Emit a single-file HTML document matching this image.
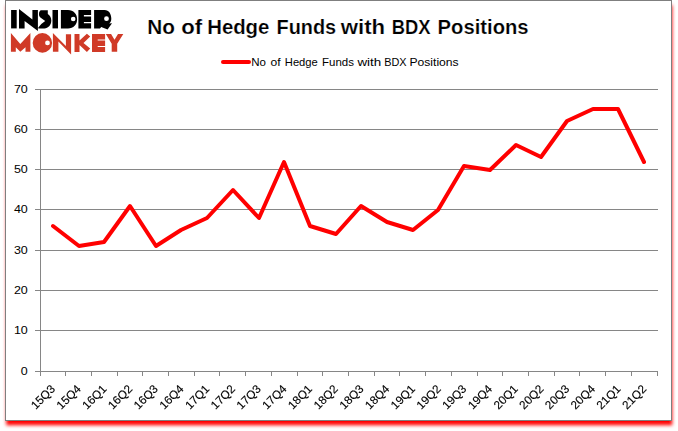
<!DOCTYPE html>
<html><head><meta charset="utf-8"><title>chart</title>
<style>
html,body{margin:0;padding:0;background:#fff;}
body{width:678px;height:431px;overflow:hidden;position:relative;font-family:"Liberation Sans",sans-serif;}
#box{position:absolute;left:5px;top:0;width:665px;height:419px;border:1px solid #7f7f7f;background:#fff;box-shadow:0.5px 4.5px 3.5px #ff0000;}
svg{position:absolute;left:0;top:0;}
text{font-family:"Liberation Sans",sans-serif;fill:#000;}
</style></head><body>
<div id="box"></div>
<svg width="678" height="431" viewBox="0 0 678 431">

<rect x="35" y="89" width="623" height="1" fill="#868686"/>
<rect x="35" y="129" width="623" height="1" fill="#868686"/>
<rect x="35" y="169" width="623" height="1" fill="#868686"/>
<rect x="35" y="209" width="623" height="1" fill="#868686"/>
<rect x="35" y="250" width="623" height="1" fill="#868686"/>
<rect x="35" y="290" width="623" height="1" fill="#868686"/>
<rect x="35" y="330" width="623" height="1" fill="#868686"/>
<rect x="35" y="371" width="623" height="1" fill="#868686"/>
<rect x="40" y="89" width="1" height="283" fill="#868686"/>
<rect x="40" y="371" width="1" height="5" fill="#868686"/>
<rect x="65" y="371" width="1" height="5" fill="#868686"/>
<rect x="91" y="371" width="1" height="5" fill="#868686"/>
<rect x="117" y="371" width="1" height="5" fill="#868686"/>
<rect x="142" y="371" width="1" height="5" fill="#868686"/>
<rect x="168" y="371" width="1" height="5" fill="#868686"/>
<rect x="194" y="371" width="1" height="5" fill="#868686"/>
<rect x="219" y="371" width="1" height="5" fill="#868686"/>
<rect x="245" y="371" width="1" height="5" fill="#868686"/>
<rect x="271" y="371" width="1" height="5" fill="#868686"/>
<rect x="297" y="371" width="1" height="5" fill="#868686"/>
<rect x="322" y="371" width="1" height="5" fill="#868686"/>
<rect x="348" y="371" width="1" height="5" fill="#868686"/>
<rect x="374" y="371" width="1" height="5" fill="#868686"/>
<rect x="399" y="371" width="1" height="5" fill="#868686"/>
<rect x="425" y="371" width="1" height="5" fill="#868686"/>
<rect x="451" y="371" width="1" height="5" fill="#868686"/>
<rect x="477" y="371" width="1" height="5" fill="#868686"/>
<rect x="502" y="371" width="1" height="5" fill="#868686"/>
<rect x="528" y="371" width="1" height="5" fill="#868686"/>
<rect x="554" y="371" width="1" height="5" fill="#868686"/>
<rect x="579" y="371" width="1" height="5" fill="#868686"/>
<rect x="605" y="371" width="1" height="5" fill="#868686"/>
<rect x="631" y="371" width="1" height="5" fill="#868686"/>
<rect x="657" y="371" width="1" height="5" fill="#868686"/>
<text x="13.90" y="93.1" font-size="11.4" textLength="13.90" lengthAdjust="spacingAndGlyphs">70</text>
<text x="13.90" y="133.1" font-size="11.4" textLength="13.90" lengthAdjust="spacingAndGlyphs">60</text>
<text x="13.90" y="173.1" font-size="11.4" textLength="13.90" lengthAdjust="spacingAndGlyphs">50</text>
<text x="13.90" y="213.1" font-size="11.4" textLength="13.90" lengthAdjust="spacingAndGlyphs">40</text>
<text x="13.90" y="254.1" font-size="11.4" textLength="13.90" lengthAdjust="spacingAndGlyphs">30</text>
<text x="13.90" y="294.1" font-size="11.4" textLength="13.90" lengthAdjust="spacingAndGlyphs">20</text>
<text x="13.90" y="334.1" font-size="11.4" textLength="13.90" lengthAdjust="spacingAndGlyphs">10</text>
<text x="20.85" y="375.1" font-size="11.4" textLength="6.95" lengthAdjust="spacingAndGlyphs">0</text>
<defs><filter id="nf" x="0" y="0" width="678" height="431" filterUnits="userSpaceOnUse"><feOffset dx="0" dy="0"/></filter></defs><g filter="url(#nf)">
<text transform="translate(55.85,389.70) rotate(-45)" font-size="11.7" text-anchor="end" stroke="#000" stroke-width="0.15">15Q3</text>
<text transform="translate(81.56,389.70) rotate(-45)" font-size="11.7" text-anchor="end" stroke="#000" stroke-width="0.15">15Q4</text>
<text transform="translate(107.27,389.70) rotate(-45)" font-size="11.7" text-anchor="end" stroke="#000" stroke-width="0.15">16Q1</text>
<text transform="translate(132.98,389.70) rotate(-45)" font-size="11.7" text-anchor="end" stroke="#000" stroke-width="0.15">16Q2</text>
<text transform="translate(158.69,389.70) rotate(-45)" font-size="11.7" text-anchor="end" stroke="#000" stroke-width="0.15">16Q3</text>
<text transform="translate(184.40,389.70) rotate(-45)" font-size="11.7" text-anchor="end" stroke="#000" stroke-width="0.15">16Q4</text>
<text transform="translate(210.10,389.70) rotate(-45)" font-size="11.7" text-anchor="end" stroke="#000" stroke-width="0.15">17Q1</text>
<text transform="translate(235.81,389.70) rotate(-45)" font-size="11.7" text-anchor="end" stroke="#000" stroke-width="0.15">17Q2</text>
<text transform="translate(261.52,389.70) rotate(-45)" font-size="11.7" text-anchor="end" stroke="#000" stroke-width="0.15">17Q3</text>
<text transform="translate(287.23,389.70) rotate(-45)" font-size="11.7" text-anchor="end" stroke="#000" stroke-width="0.15">17Q4</text>
<text transform="translate(312.94,389.70) rotate(-45)" font-size="11.7" text-anchor="end" stroke="#000" stroke-width="0.15">18Q1</text>
<text transform="translate(338.65,389.70) rotate(-45)" font-size="11.7" text-anchor="end" stroke="#000" stroke-width="0.15">18Q2</text>
<text transform="translate(364.35,389.70) rotate(-45)" font-size="11.7" text-anchor="end" stroke="#000" stroke-width="0.15">18Q3</text>
<text transform="translate(390.06,389.70) rotate(-45)" font-size="11.7" text-anchor="end" stroke="#000" stroke-width="0.15">18Q4</text>
<text transform="translate(415.77,389.70) rotate(-45)" font-size="11.7" text-anchor="end" stroke="#000" stroke-width="0.15">19Q1</text>
<text transform="translate(441.48,389.70) rotate(-45)" font-size="11.7" text-anchor="end" stroke="#000" stroke-width="0.15">19Q2</text>
<text transform="translate(467.19,389.70) rotate(-45)" font-size="11.7" text-anchor="end" stroke="#000" stroke-width="0.15">19Q3</text>
<text transform="translate(492.90,389.70) rotate(-45)" font-size="11.7" text-anchor="end" stroke="#000" stroke-width="0.15">19Q4</text>
<text transform="translate(518.60,389.70) rotate(-45)" font-size="11.7" text-anchor="end" stroke="#000" stroke-width="0.15">20Q1</text>
<text transform="translate(544.31,389.70) rotate(-45)" font-size="11.7" text-anchor="end" stroke="#000" stroke-width="0.15">20Q2</text>
<text transform="translate(570.02,389.70) rotate(-45)" font-size="11.7" text-anchor="end" stroke="#000" stroke-width="0.15">20Q3</text>
<text transform="translate(595.73,389.70) rotate(-45)" font-size="11.7" text-anchor="end" stroke="#000" stroke-width="0.15">20Q4</text>
<text transform="translate(621.44,389.70) rotate(-45)" font-size="11.7" text-anchor="end" stroke="#000" stroke-width="0.15">21Q1</text>
<text transform="translate(647.15,389.70) rotate(-45)" font-size="11.7" text-anchor="end" stroke="#000" stroke-width="0.15">21Q2</text>
</g>
<polyline points="53,226 79,246 104,242 130,206 156,246 181,230 207,218 233,190 259,218 284,162 310,226 336,234 361,206 387,222 413,230 438,210 464,166 490,170 516,145 541,157 567,121 593,109 618,109 644,162" fill="none" stroke="#ff0000" stroke-width="4" stroke-linejoin="round" stroke-linecap="round"/>
<text x="147.19" y="33.7" font-size="20.6" font-weight="bold" stroke="#fff" stroke-width="0.2" textLength="27.68" lengthAdjust="spacingAndGlyphs">No</text>
<text x="181.24" y="33.7" font-size="20.6" font-weight="bold" stroke="#fff" stroke-width="0.2" textLength="20.9" lengthAdjust="spacingAndGlyphs">of</text>
<text x="207.22" y="33.7" font-size="20.6" font-weight="bold" stroke="#fff" stroke-width="0.2" textLength="62.13" lengthAdjust="spacingAndGlyphs">Hedge</text>
<text x="276.55" y="33.7" font-size="20.6" font-weight="bold" stroke="#fff" stroke-width="0.2" textLength="59.61" lengthAdjust="spacingAndGlyphs">Funds</text>
<text x="340.81" y="33.7" font-size="20.6" font-weight="bold" stroke="#fff" stroke-width="0.2" textLength="44.37" lengthAdjust="spacingAndGlyphs">with</text>
<text x="391.64" y="33.7" font-size="20.6" font-weight="bold" stroke="#fff" stroke-width="0.2" textLength="38.84" lengthAdjust="spacingAndGlyphs">BDX</text>
<text x="437.62" y="33.7" font-size="20.6" font-weight="bold" stroke="#fff" stroke-width="0.2" textLength="90.97" lengthAdjust="spacingAndGlyphs">Positions</text>
<line x1="223" y1="62" x2="249" y2="62" stroke="#ff0000" stroke-width="4" stroke-linecap="round"/>
<text x="251.21" y="65.9" font-size="11.6" textLength="14.72" lengthAdjust="spacingAndGlyphs">No</text>
<text x="270.48" y="65.9" font-size="11.6" textLength="10.09" lengthAdjust="spacingAndGlyphs">of</text>
<text x="284.83" y="65.9" font-size="11.6" textLength="32.93" lengthAdjust="spacingAndGlyphs">Hedge</text>
<text x="322.01" y="65.9" font-size="11.6" textLength="31.93" lengthAdjust="spacingAndGlyphs">Funds</text>
<text x="357.42" y="65.9" font-size="11.6" textLength="23.83" lengthAdjust="spacingAndGlyphs">with</text>
<text x="384.16" y="65.9" font-size="11.6" textLength="22.38" lengthAdjust="spacingAndGlyphs">BDX</text>
<text x="409.46" y="65.9" font-size="11.6" textLength="49.23" lengthAdjust="spacingAndGlyphs">Positions</text>
<g id="logo">
<g fill="#000">
<rect x="11.1" y="10" width="5.6" height="18.4"/>
<path d="M19,9 L32.4,19.4 L32.4,10 L37.9,10 L37.9,30.9 L24.6,21 L24.6,28.4 L19,28.4 Z"/>
<path d="M41.3,10.3 L47.8,10.3 L47.8,14 C50,15.3 51.3,17.8 51.3,20.6 C51.3,25.2 48,28.4 44.5,28.4 L38.3,28.4 L38.3,27.4 L41.3,24 L45.2,21 L40.4,17.6 C39.4,16.6 39,15.4 39,14.2 C39,12 39.8,10.3 41.3,10.3 Z"/>
<rect x="52.5" y="10" width="5.5" height="18.4"/>
<path fill-rule="evenodd" d="M60.9,10 L68,10 C73.5,10 77.1,14 77.1,19.2 C77.1,24.4 73.5,28.4 68,28.4 L60.9,28.4 Z M75.5,19 A2.3,2.3 0 1 0 70.9,19 A2.3,2.3 0 1 0 75.5,19 Z"/>
<path d="M78.4,10 L91.1,10 L91.1,15.1 L83.9,15.1 L83.9,16.4 L91.1,16.4 L91.1,21.9 L83.9,21.9 L83.9,23.2 L91.1,23.2 L91.1,28.4 L78.4,28.4 Z"/>
<path fill-rule="evenodd" d="M94.1,10 L104.5,10 C109,10 111.3,14 111.3,18.8 C111.3,20.8 110.6,22.3 109.3,23.6 L112,23.2 L107.6,29.5 L101.2,27 L100,28.4 L94.1,28.4 Z M108.9,18.7 A2.4,2.4 0 1 0 104.1,18.7 A2.4,2.4 0 1 0 108.9,18.7 Z"/>
</g>
<g fill="#d03a27">
<path d="M10.9,32.9 L20.3,44 L30.4,32.9 L30.4,51.8 L25.5,51.8 L25.5,47.2 L20.3,51.8 L15.8,47.2 L15.8,51.8 L10.9,51.8 Z"/>
<path fill-rule="evenodd" d="M52.1,42.9 A9.7,9.8 0 1 0 32.7,42.9 A9.7,9.8 0 1 0 52.1,42.9 Z M49.9,42.9 A2.4,2.4 0 1 0 45.1,42.9 A2.4,2.4 0 1 0 49.9,42.9 Z"/>
<path d="M52.9,32.9 L65.9,46 L65.9,34.2 L71.1,34.2 L71.1,54.4 L58.4,41.5 L58.4,51.8 L52.9,51.8 Z"/>
<path d="M74.5,34.1 L79.5,34.1 L79.5,40.5 L86.9,33.7 L90.2,36.6 L83.5,42.9 L90.2,48.6 L86.9,51.9 L79.5,45 L79.5,51.9 L74.5,51.9 Z"/>
<path d="M92,34.1 L105.1,34.1 L105.1,39.5 L97.7,39.5 L97.7,40.6 L105.1,40.6 L105.1,45.9 L97.7,45.9 L97.7,47 L105.1,47 L105.1,51.9 L92,51.9 Z"/>
<path d="M105.8,34.1 L111.1,34.1 L114.5,39.7 L118,34.1 L123.3,34.1 L117.2,43.7 L117.2,51.8 L111.7,51.8 L111.7,43.7 Z"/>
</g></g>
</svg></body></html>
